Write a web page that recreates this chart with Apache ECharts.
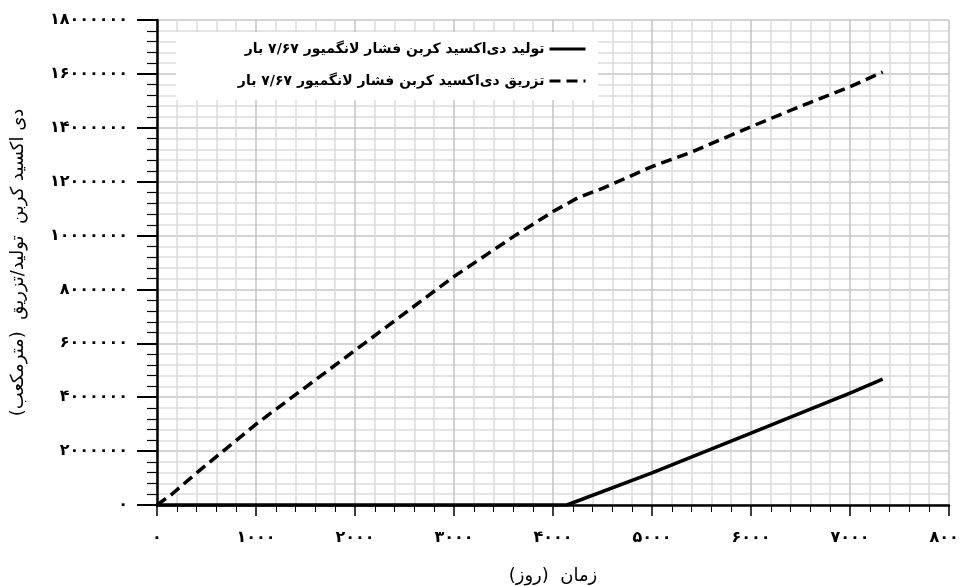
<!DOCTYPE html>
<html>
<head>
<meta charset="utf-8">
<script src="https://cdn.jsdelivr.net/npm/echarts@6/dist/echarts.min.js"></script>
<style>
  html, body { margin: 0; padding: 0; background: #fff; }
  #chart { width: 962px; height: 586px; }
</style>
</head>
<body>
<div id="chart"></div>
<script>
// data (days, cubic metres)
var injDays = [0, 150, 400, 1000, 2000, 3000, 3600, 4000, 4250, 4500, 5000, 5400, 6000, 6500, 7000, 7330];
var injVals = [0, 400000, 1190000, 3000000, 5740000, 8480000, 9960000, 10890000, 11400000, 11750000, 12560000, 13100000, 14040000, 14800000, 15520000, 16070000];
var prodDays = [0, 4140, 5000, 6000, 7000, 7330];
var prodVals = [0, 0, 1190000, 2670000, 4150000, 4670000];

var prodName = 'تولید دی‌اکسید کربن فشار لانگمیور ۷/۶۷ بار';
var injName = 'تزریق دی‌اکسید کربن فشار لانگمیور ۷/۶۷ بار';
var xName = 'زمان  (روز)\u200F';
var yName = 'دی اکسید کربن  تولید/تزریق  (مترمکعب)\u200F';

var FONT = '"DejaVu Sans", sans-serif';

function fa(v) {
    return String(v).replace(/\d/g, function(d) { return '۰۱۲۳۴۵۶۷۸۹'[d]; });
}
function pairs(xs, ys) {
    return xs.map(function(x, i) { return [x, ys[i]]; });
}

var chart = echarts.init(document.getElementById('chart'));
chart.setOption({
    animation: false,
    grid: { left: 157, right: 13, top: 20, bottom: 81, containLabel: false, outerBoundsMode: 'none' },
    graphic: [{
        type: 'rect', left: 176, top: 32, z: 1,
        shape: { width: 422, height: 68 },
        style: { fill: '#fff' }
    }],
    legend: {
        orient: 'vertical', right: 370, top: 37,
        align: 'right', itemWidth: 36, itemHeight: 14, itemGap: 18,
        itemStyle: { color: 'rgba(0,0,0,0)', borderWidth: 0, opacity: 0 },
        lineStyle: { width: 3 },
        textStyle: { fontFamily: FONT, fontWeight: 'bold', fontSize: 14, color: '#000' },
        data: [prodName, injName]
    },
    xAxis: {
        type: 'value', min: 0, max: 8000, interval: 1000,
        name: xName, nameLocation: 'middle', nameGap: 62,
        nameTextStyle: { fontFamily: FONT, fontSize: 18, color: '#000' },
        axisLine: { lineStyle: { color: '#000', width: 2.5 } },
        axisTick: { show: true, length: 11, lineStyle: { color: '#000', width: 1.5 } },
        minorTick: { show: true, splitNumber: 5, length: 7, lineStyle: { color: '#000', width: 1 } },
        axisLabel: { margin: 25, fontFamily: FONT, fontWeight: 'bold', fontSize: 16, color: '#000', formatter: fa },
        splitLine: { show: true, lineStyle: { color: '#c4c4c4', width: 1.5 } },
        minorSplitLine: { show: true, lineStyle: { color: '#dcdcdc', width: 1.5 } }
    },
    yAxis: {
        type: 'value', min: 0, max: 18000000, interval: 2000000,
        name: yName, nameLocation: 'middle', nameGap: 130,
        nameTextStyle: { fontFamily: FONT, fontSize: 18, color: '#000' },
        axisLine: { lineStyle: { color: '#000', width: 2.5 } },
        axisTick: { show: true, length: 20, lineStyle: { color: '#000', width: 2 } },
        minorTick: { show: true, splitNumber: 5, length: 10, lineStyle: { color: '#000', width: 1.2 } },
        axisLabel: { margin: 29, fontFamily: FONT, fontWeight: 'bold', fontSize: 16, color: '#000', formatter: fa },
        splitLine: { show: true, lineStyle: { color: '#c4c4c4', width: 1.5 } },
        minorSplitLine: { show: true, lineStyle: { color: '#dcdcdc', width: 1.5 } }
    },
    series: [{
        name: prodName, type: 'line', symbol: 'none', z: 3,
        data: pairs(prodDays, prodVals),
        lineStyle: { color: '#000', width: 3.5, type: 'solid' },
        itemStyle: { color: '#000' }
    }, {
        name: injName, type: 'line', symbol: 'none', z: 3,
        data: pairs(injDays, injVals),
        lineStyle: { color: '#000', width: 3.5, type: [11, 6] },
        itemStyle: { color: '#000' }
    }]
});
</script>
</body>
</html>
